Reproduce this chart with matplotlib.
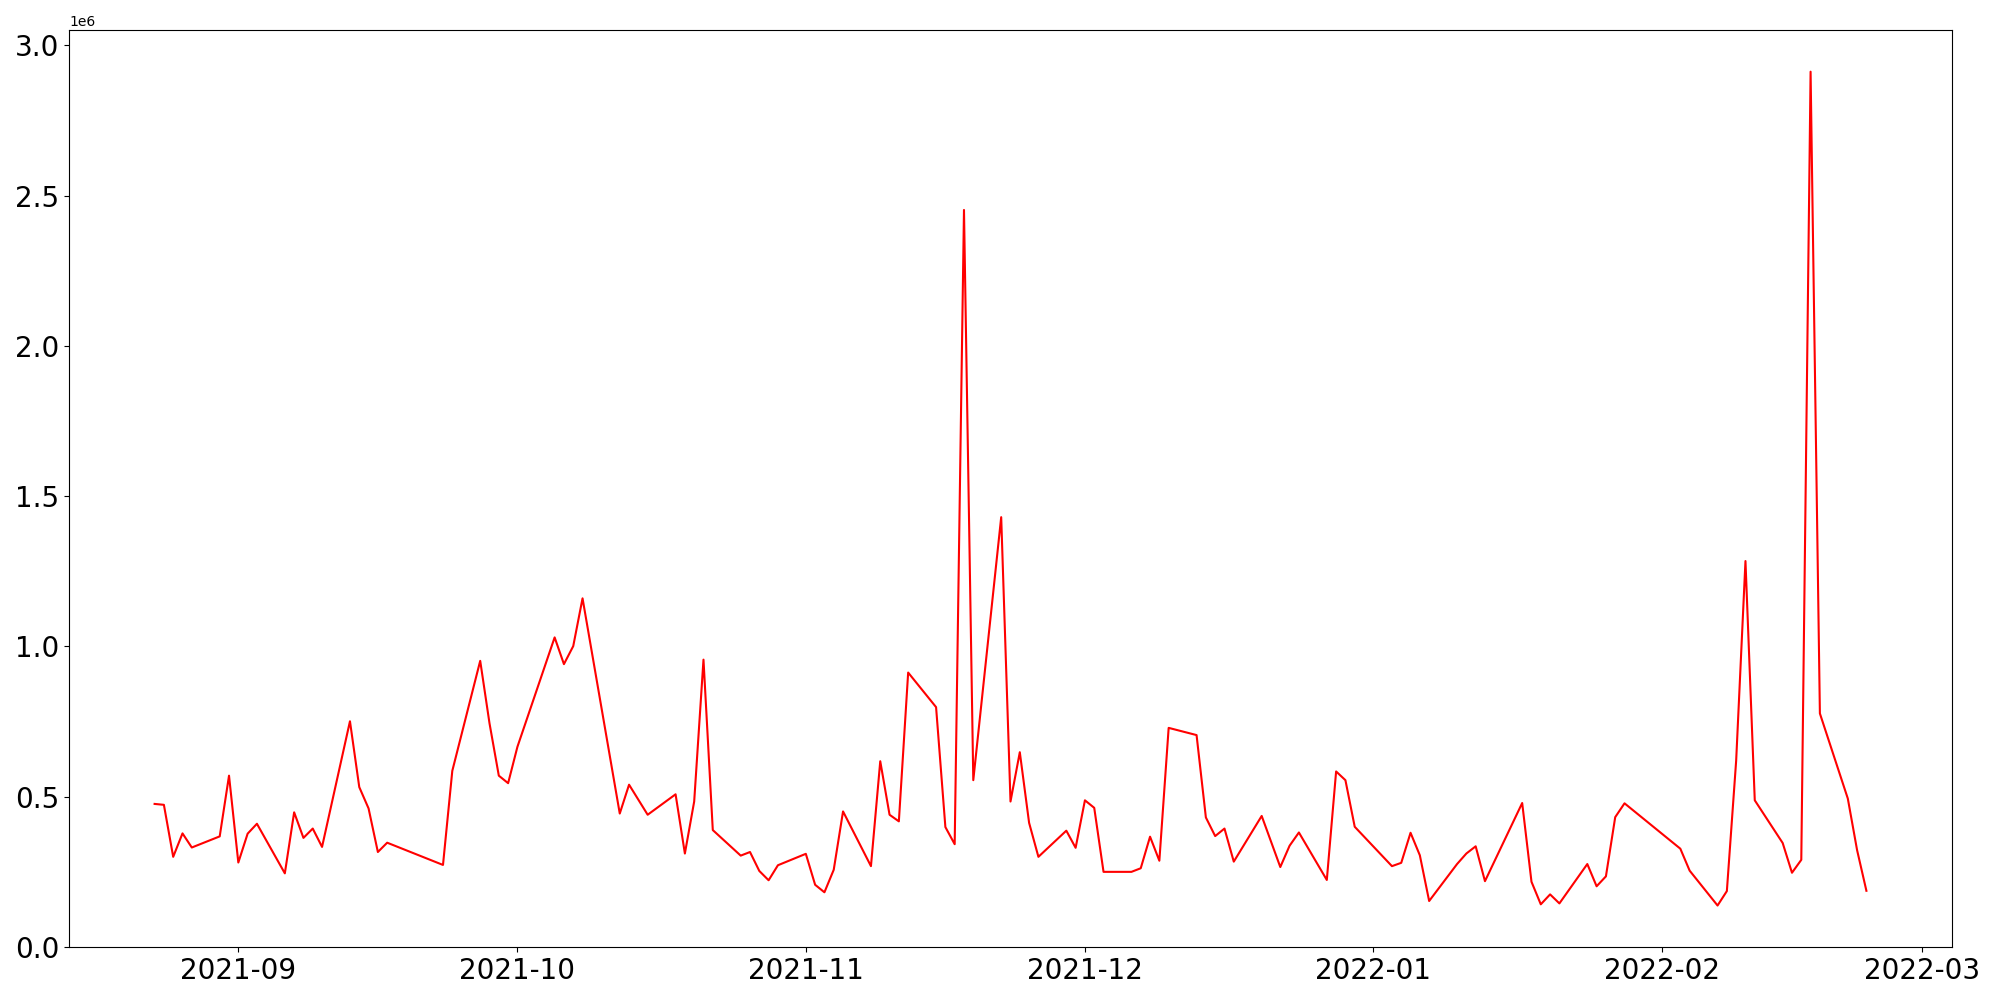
import matplotlib
matplotlib.use("Agg")
import matplotlib.pyplot as plt
import pandas as pd

dates = [
    "2021-08-23", "2021-08-24", "2021-08-25", "2021-08-26", "2021-08-27",
    "2021-08-30", "2021-08-31", "2021-09-01", "2021-09-02", "2021-09-03",
    "2021-09-06", "2021-09-07", "2021-09-08", "2021-09-09", "2021-09-10",
    "2021-09-13", "2021-09-14", "2021-09-15", "2021-09-16", "2021-09-17",
    "2021-09-23", "2021-09-24", "2021-09-27", "2021-09-28", "2021-09-29",
    "2021-09-30", "2021-10-01", "2021-10-05", "2021-10-06", "2021-10-07",
    "2021-10-08", "2021-10-12", "2021-10-13", "2021-10-15", "2021-10-18",
    "2021-10-19", "2021-10-20", "2021-10-21", "2021-10-22", "2021-10-25",
    "2021-10-26", "2021-10-27", "2021-10-28", "2021-10-29", "2021-11-01",
    "2021-11-02", "2021-11-03", "2021-11-04", "2021-11-05", "2021-11-08",
    "2021-11-09", "2021-11-10", "2021-11-11", "2021-11-12", "2021-11-15",
    "2021-11-16", "2021-11-17", "2021-11-18", "2021-11-19", "2021-11-22",
    "2021-11-23", "2021-11-24", "2021-11-25", "2021-11-26", "2021-11-29",
    "2021-11-30", "2021-12-01", "2021-12-02", "2021-12-03", "2021-12-06",
    "2021-12-07", "2021-12-08", "2021-12-09", "2021-12-10", "2021-12-13",
    "2021-12-14", "2021-12-15", "2021-12-16", "2021-12-17", "2021-12-20",
    "2021-12-22", "2021-12-23", "2021-12-24", "2021-12-27", "2021-12-28",
    "2021-12-29", "2021-12-30", "2022-01-03", "2022-01-04", "2022-01-05",
    "2022-01-06", "2022-01-07", "2022-01-10", "2022-01-11", "2022-01-12",
    "2022-01-13", "2022-01-17", "2022-01-18", "2022-01-19", "2022-01-20",
    "2022-01-21", "2022-01-24", "2022-01-25", "2022-01-26", "2022-01-27",
    "2022-01-28", "2022-02-03", "2022-02-04", "2022-02-07", "2022-02-08",
    "2022-02-09", "2022-02-10", "2022-02-11", "2022-02-14", "2022-02-15",
    "2022-02-16", "2022-02-17", "2022-02-18", "2022-02-21", "2022-02-22",
    "2022-02-23",
]

values_m = [
    0.476, 0.473, 0.300, 0.378, 0.331,
    0.368, 0.570, 0.281, 0.377, 0.410,
    0.245, 0.448, 0.363, 0.394, 0.333,
    0.751, 0.532, 0.461, 0.316, 0.347,
    0.273, 0.586, 0.952, 0.744, 0.570,
    0.545, 0.666, 1.030, 0.941, 1.001,
    1.160, 0.444, 0.540, 0.440, 0.508,
    0.311, 0.484, 0.956, 0.389, 0.304,
    0.316, 0.253, 0.222, 0.272, 0.310,
    0.207, 0.182, 0.257, 0.451, 0.269,
    0.618, 0.440, 0.418, 0.913, 0.798,
    0.399, 0.342, 2.452, 0.555, 1.430,
    0.484, 0.648, 0.413, 0.300, 0.387,
    0.330, 0.488, 0.463, 0.250, 0.250,
    0.262, 0.367, 0.287, 0.729, 0.705,
    0.431, 0.369, 0.394, 0.284, 0.436,
    0.266, 0.337, 0.381, 0.223, 0.584,
    0.555, 0.400, 0.269, 0.280, 0.380,
    0.305, 0.153, 0.276, 0.311, 0.335,
    0.219, 0.479, 0.217, 0.142, 0.175,
    0.145, 0.276, 0.202, 0.235, 0.432,
    0.478, 0.327, 0.254, 0.138, 0.186,
    0.620, 1.284, 0.488, 0.346, 0.247,
    0.290, 2.912, 0.777, 0.494, 0.322,
    0.187,
]

x = pd.to_datetime(dates)
y = [v * 1e6 for v in values_m]

fig, ax = plt.subplots(figsize=(20, 10), dpi=100)
ax.plot(x, y, color="red", linewidth=1.5)
ax.set_ylim(bottom=0)
plt.xticks(fontsize=20)
plt.yticks(fontsize=20)
fig.subplots_adjust(left=0.0345, right=0.976, bottom=0.053, top=0.97)
fig.savefig("out.png", dpi=100)
